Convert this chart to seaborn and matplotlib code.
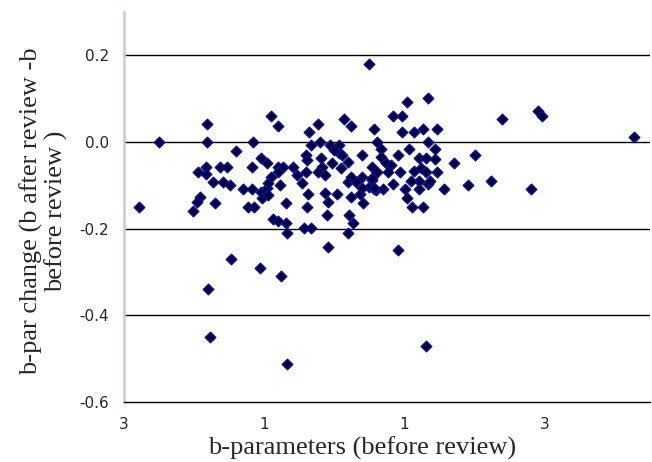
import matplotlib
matplotlib.use("Agg")
import matplotlib.pyplot as plt
import seaborn as sns

# b-parameter before review (x) and change after review (y)
b_before = [
    -2.79, -2.50, -1.81, -1.81, -1.41, -1.16, -0.90, -0.80, -1.94, -1.83,
    -1.83, -1.63, -1.53, -1.73, -1.59, -1.49, -1.30, -1.17, -1.17, -1.04,
    -0.96, -0.91, -0.81, -0.73, -0.59, -0.81, -1.04, -1.03, -0.96, -0.94,
    -0.77, -1.91, -1.96, -2.01, -1.70, -1.23, -1.14, -0.69, -0.87, -0.80,
    -0.69, -0.67, -0.44, -0.34, -0.53, -0.41, -0.41, -0.39, -0.34, -0.36,
    -0.23, -0.20, -0.06, -0.19, -0.17, -0.04, -0.23, -0.13, -0.46, -0.37,
    -0.39, -0.13, -0.09, -0.11, 0.04, 0.07, 0.07, 0.09, 0.19, 0.19,
    0.23, 0.21, 0.27, 0.19, 0.14, 0.23, 0.40, 0.40, 0.31, 0.37,
    0.41, 0.50, 0.54, 0.56, 0.50, 0.61, 0.61, 0.59, 0.66, 0.67,
    0.73, 0.80, 0.77, 0.54, 0.57, 0.70, 0.84, 0.94, 0.84, 0.96,
    1.04, 1.33, 0.96, 1.13, 1.27, 1.47, 1.33, 1.44, 1.06, 0.91,
    1.21, 1.30, 1.43, 1.13, 1.23, 1.30, 1.46, 1.21, 1.34, 1.01,
    1.21, 1.03, 1.10, 1.26, 1.56, 1.70, 2.00, 1.90, 2.24, 2.39,
    2.81, 2.91, 2.96, 4.27, 1.09, 1.37, 0.53, 0.23, 0.11, 0.39,
    0.56, -0.09, 0.90, -1.47, -1.06, -0.76, -1.80, -1.77, -0.67, 1.31,
    -0.01, -0.94,
]
b_change = [
    -0.150, 0.000, 0.041, 0.000, -0.021, 0.000, 0.059, 0.038, -0.070, -0.058,
    -0.074, -0.058, -0.058, -0.093, -0.093, -0.100, -0.109, -0.109, -0.058, -0.038,
    -0.049, -0.081, -0.058, -0.058, -0.058, -0.070, -0.116, -0.130, -0.107, -0.123,
    -0.100, -0.127, -0.139, -0.160, -0.141, -0.150, -0.150, -0.141, -0.178, -0.183,
    -0.187, -0.210, -0.199, -0.199, -0.077, -0.070, -0.031, -0.042, -0.008, 0.022,
    0.041, 0.000, -0.008, -0.038, -0.058, -0.049, -0.070, -0.077, -0.095, -0.121,
    -0.150, -0.118, -0.139, -0.169, -0.121, -0.008, -0.026, -0.061, -0.047, -0.093,
    -0.127, -0.169, -0.187, -0.210, 0.052, 0.038, -0.031, -0.081, -0.093, -0.121,
    -0.141, -0.104, -0.058, 0.029, 0.179, 0.000, -0.070, -0.111, -0.017, -0.035,
    -0.049, -0.054, -0.070, -0.088, -0.109, -0.109, -0.098, -0.070, 0.059, 0.059,
    0.092, 0.101, 0.022, 0.022, 0.029, 0.029, 0.000, -0.017, -0.017, -0.031,
    -0.038, -0.038, -0.040, -0.068, -0.061, -0.070, -0.070, -0.091, -0.098, -0.109,
    -0.109, -0.130, -0.150, -0.150, -0.109, -0.049, -0.031, -0.100, -0.091, 0.052,
    -0.109, 0.071, 0.059, 0.011, -0.091, -0.091, -0.084, -0.081, -0.031, -0.107,
    -0.107, -0.243, -0.250, -0.270, -0.291, -0.310, -0.340, -0.450, -0.512, -0.471,
    -0.019, -0.095,
]

x_ticks = [-3, -1, 1, 3]
x_tick_labels = ["3", "1", "1", "3"]
y_ticks = [-0.6, -0.4, -0.2, 0.0, 0.2]
y_tick_labels = ["-0.6", "-0.4", "-0.2", "0.0", "0.2"]

sns.set_style("white")
plt.rcParams["font.family"] = ["DejaVu Sans"]

fig = plt.figure(figsize=(6.52, 4.62), dpi=100)
ax = fig.add_axes([124 / 652, 1 - 402 / 462, 526 / 652, 390 / 462])

sns.scatterplot(x=b_before, y=b_change, marker="D", s=30, color="#000040",
                edgecolor="#101090", linewidth=0.9, ax=ax, zorder=3)

ax.set_xlim(-3, 4.5)
ax.set_ylim(-0.6, 0.3)

ax.set_yticks(y_ticks)
ax.set_yticklabels(y_tick_labels, fontsize=11)
ax.set_xticks(x_ticks)
ax.set_xticklabels(x_tick_labels, fontsize=11)

for v in [-0.4, -0.2, 0.0, 0.2]:
    ax.axhline(v, color="black", lw=1.0, zorder=1)

for side in ["top", "right"]:
    ax.spines[side].set_visible(False)
ax.spines["left"].set_color("#b9cde5")
ax.spines["left"].set_linewidth(1.8)
ax.spines["bottom"].set_color("black")
ax.spines["bottom"].set_linewidth(1.0)

ax.tick_params(axis="y", direction="out", length=4, width=1.5, color="#b9cde5", pad=7)
ax.tick_params(axis="x", direction="out", length=4, width=1.0, color="black", pad=7)

ax.set_xlabel("b-parameters (before review)", family="Liberation Serif", fontsize=19)
ax.xaxis.set_label_coords(0.452, -0.088)
ax.set_ylabel("b-par change (b after review -b\nbefore review )", family="Liberation Serif",
              fontsize=19, linespacing=1.1)
ax.yaxis.set_label_coords(-0.106, 0.49)

plt.savefig("out.png", dpi=100)
plt.close()
